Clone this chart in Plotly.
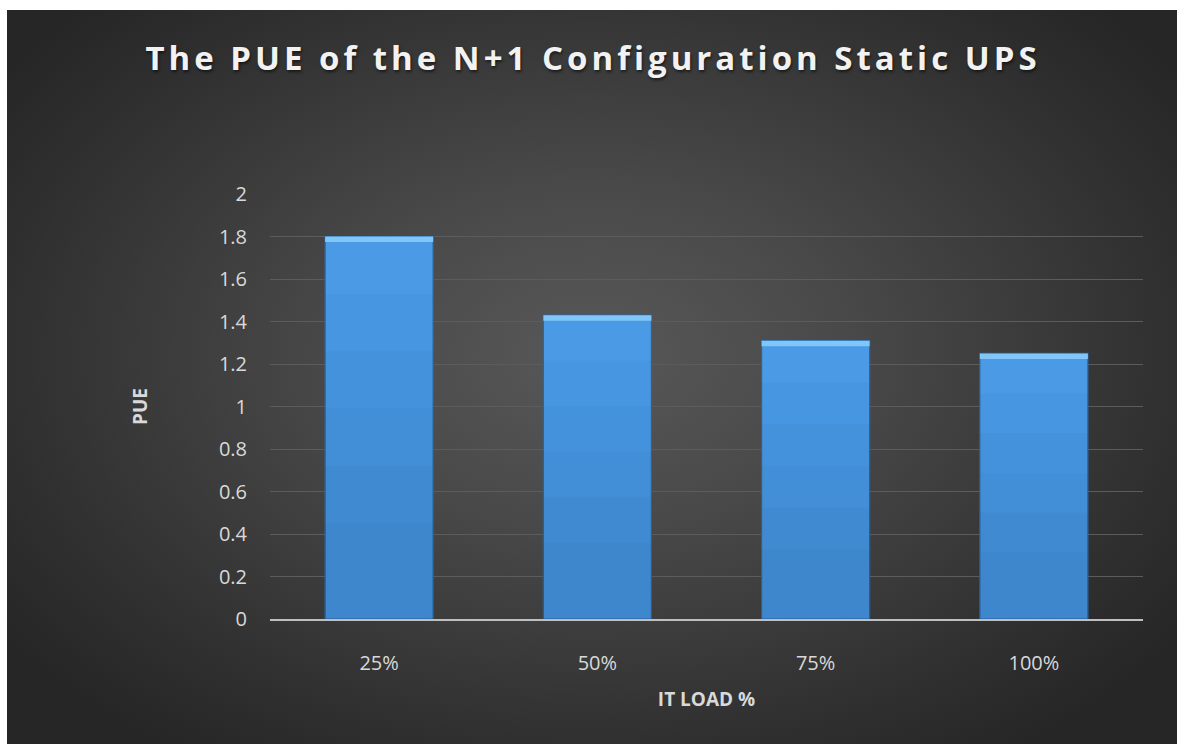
import plotly.graph_objects as go

# Data
it_load = ["25%", "50%", "75%", "100%"]
pue = [1.8, 1.43, 1.31, 1.25]
y_ticks = [0, 0.2, 0.4, 0.6, 0.8, 1, 1.2, 1.4, 1.6, 1.8, 2]
y_tick_text = ["0", "0.2", "0.4", "0.6", "0.8", "1", "1.2", "1.4", "1.6", "1.8", "2"]

FONT = "Open Sans, Lato, sans-serif"
TEXT = "#d9d9d9"
CAP = 0.026  # height of the bevel highlight at the top of each bar
SHADE_STEPS = [0.85, 0.7, 0.55, 0.4, 0.25]  # fractions of bar height darkened progressively

fig = go.Figure()

# main bars
fig.add_trace(go.Bar(
    x=it_load, y=pue,
    marker=dict(color="#4a9ae6", line=dict(color="#2b66a3", width=1.2)),
    hoverinfo="x+y", showlegend=False,
))
# vertical shading: each layer darkens the lower part a little more
for f in SHADE_STEPS:
    fig.add_trace(go.Bar(
        x=it_load, y=[v * f for v in pue],
        marker=dict(color="rgba(25,60,120,0.045)", line=dict(width=0)),
        hoverinfo="skip", showlegend=False,
    ))
# light bevel along the top edge
fig.add_trace(go.Bar(
    x=it_load, y=[CAP] * len(pue), base=[v - CAP for v in pue],
    marker=dict(color="#80c6f7", line=dict(width=0)),
    hoverinfo="skip", showlegend=False,
))

fig.update_layout(
    width=1177, height=744,
    barmode="overlay", bargap=0.505,
    paper_bgcolor="rgba(0,0,0,0)", plot_bgcolor="rgba(0,0,0,0)",
    margin=dict(l=270, r=34, t=194, b=125),
    font=dict(family=FONT, color=TEXT, size=20),
    title=dict(
        text="The PUE of the N+1 Configuration Static UPS",
        x=593 / 1177, xref="container", xanchor="center",
        y=1 - 58 / 744, yref="container", yanchor="middle",
        font=dict(family=FONT, size=33, color="#f2f2f2", weight="bold",
                  shadow="1px 2px 3px rgba(0,0,0,0.55)"),
    ),
    xaxis=dict(
        showgrid=False, zeroline=False, showline=True,
        linecolor="#bfbfbf", linewidth=2,
        ticks="", ticklabelstandoff=25,
        tickfont=dict(size=20, color=TEXT),
        title=dict(text="IT LOAD %", standoff=18,
                   font=dict(size=19, color=TEXT, weight="bold")),
    ),
    yaxis=dict(
        range=[0, 2], tickvals=y_ticks, ticktext=y_tick_text,
        showgrid=True, gridcolor="#5c5c5c", gridwidth=1,
        zeroline=False, showline=False,
        ticks="", ticklabelstandoff=22,
        tickfont=dict(size=20, color=TEXT),
        title=dict(text="PUE", standoff=66,
                   font=dict(size=19, color=TEXT, weight="bold")),
    ),
)

# dark radial backdrop behind the chart, inset from the top-left page edge
post = """
document.documentElement.style.margin='0';
document.body.style.margin='0';
document.body.style.background='#ffffff';
var gd=document.getElementsByClassName('plotly-graph-div')[0];
gd.style.background='radial-gradient(ellipse 62% 66% at 50% 47%, #585858 0%, #494949 35%, #303030 80%, #262626 100%) 7px 10px / 1170px 734px no-repeat, #ffffff';
var t=gd.querySelector('.gtitle'); if(t){t.style.letterSpacing='4px';}
"""

fig.write_html("out.html", post_script=post)
